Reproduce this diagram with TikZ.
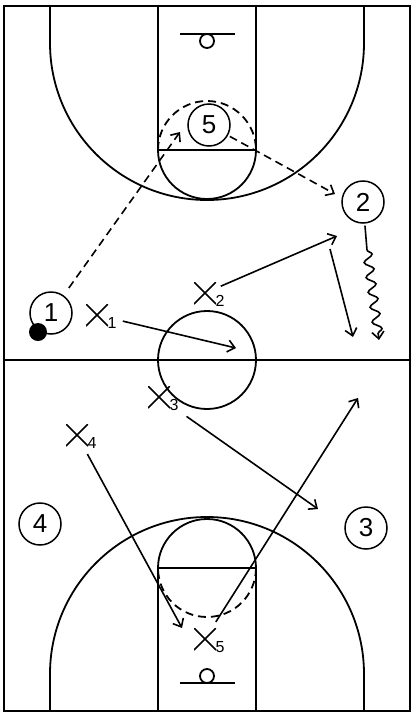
\documentclass[tikz,border=0pt]{standalone}
\usepackage{fontspec}
\setmainfont{Liberation Sans}
\usetikzlibrary{arrows.meta,positioning,calc,decorations.pathmorphing}
\tikzset{
  court/.style={draw=black, line width=1.8pt},
  player/.style={draw=black, circle, line width=1.5pt, minimum size=42pt,
                 inner sep=0pt, font=\fontsize{26}{26}\selectfont},
  defender/.style={minimum size=22pt, inner sep=0pt,
                   path picture={\draw[line width=1.7pt]
                     (path picture bounding box.north west) -- (path picture bounding box.south east)
                     (path picture bounding box.north east) -- (path picture bounding box.south west);}},
  sub/.style={inner sep=0pt, font=\fontsize{16}{16}\selectfont},
  ball/.style={circle, fill=black, minimum size=18pt, inner sep=0pt},
  move/.style={-{Straight Barb[length=7pt,width=12pt]}, line width=1.6pt},
  pass/.style={move, dash pattern=on 8pt off 5pt},
  dribble/.style={move, decorate,
                  decoration={snake, amplitude=4.5pt, segment length=15pt, post length=6pt}}
}

\begin{document}
\begin{tikzpicture}[x=1pt,y=-1pt]
  \useasboundingbox (0,0) rectangle (416,718);
  % court
  \draw[court, line width=2.8pt] (4,6) rectangle (410,711);
  \draw[court] (4,360) -- (410,360);
  \draw[court] (207,360) circle[radius=49];
  % top half
  \draw[court] (158,6) rectangle (256,150);
  \draw[court] (256,150) arc[start angle=0, end angle=180, radius=49];
  \draw[court, dash pattern=on 8pt off 5pt] (158,150) arc[start angle=180, end angle=360, radius=49];
  \draw[court] (50,6) -- (50,43) arc[start angle=180, end angle=0, radius=157] -- (364,6);
  \draw[court] (180,34) -- (235,34);
  \draw[court] (207,41) circle[radius=7];
  % bottom half
  \draw[court] (158,568) rectangle (256,711);
  \draw[court] (158,568) arc[start angle=180, end angle=360, radius=49];
  \draw[court, dash pattern=on 8pt off 5pt] (256,568) arc[start angle=0, end angle=180, radius=49];
  \draw[court] (50,711) -- (50,674) arc[start angle=180, end angle=360, radius=157] -- (364,711);
  \draw[court] (180,683) -- (235,683);
  \draw[court] (207,676) circle[radius=7];

  % offence
  \foreach \n/\x/\y in {1/51/313, 2/363/202, 3/366/528, 4/40/524, 5/209/125} {
    \node[player] (p\n) at (\x,\y) {\n};
  }
  \node[ball] (ball) at (38,332) {};

  % defence
  \foreach \n/\x/\y in {1/97/315, 2/205/293, 3/159/397, 4/77/435, 5/205/639} {
    \node[defender] (x\n) at (\x,\y) {};
    \node[sub] (s\n) at ($(x\n)+(15,8)$) {\n};
  }

  % movement
  \coordinate (pass1) at (180,132);
  \coordinate (pass2) at (335,194);
  \coordinate (run1) at (236,348);
  \coordinate (cut2a) at (337,236);
  \coordinate (cut2b) at (330,249);
  \coordinate (cut2c) at (353,337);
  \coordinate (drib1) at (367,250);
  \coordinate (drib2) at (379,340);
  \coordinate (run3) at (318,509);
  \coordinate (run4) at (182,628);
  \coordinate (run5) at (358,398);

  \draw[pass, shorten <=9pt] (p1) -- (pass1);
  \draw[pass, shorten <=2pt] (p5) -- (pass2);
  \draw[move, shorten <=15pt] (x1) -- (run1);
  \draw[move, shorten <=5pt] (x2) -- (cut2a);
  \draw[move] (cut2b) -- (cut2c);
  \draw[line width=1.6pt, shorten <=2pt] (p2) -- (drib1);
  \draw[dribble] (drib1) -- (drib2);
  \draw[move, shorten <=20pt] (x3) -- (run3);
  \draw[move, shorten <=9pt] (x4) -- (run4);
  \draw[move, shorten <=7pt] (x5) -- (run5);
\end{tikzpicture}
\end{document}
